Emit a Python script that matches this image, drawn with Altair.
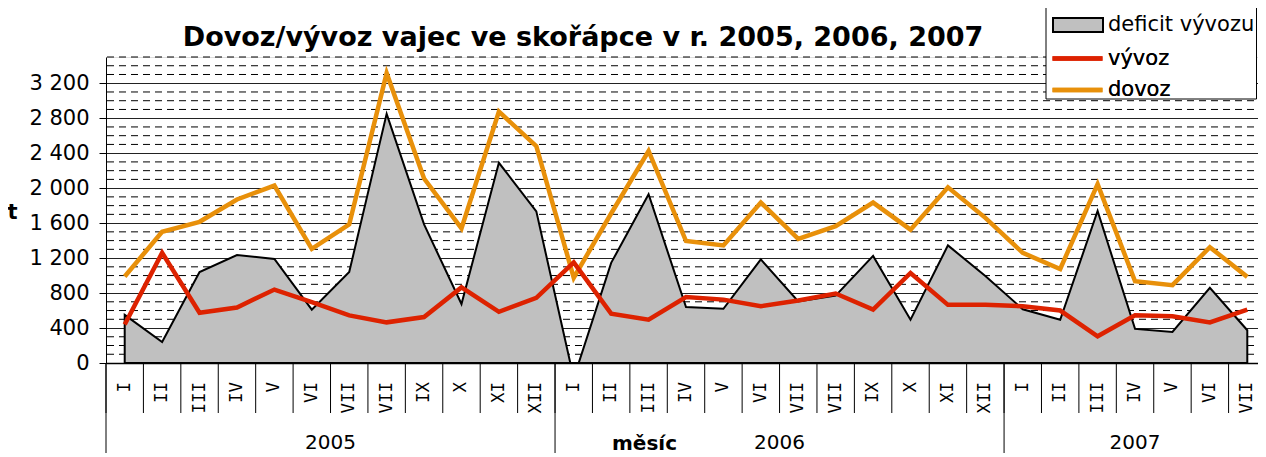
import altair as alt
import pandas as pd

# ---------------- data ----------------
months_2005 = ["I", "II", "III", "IV", "V", "VI", "VII", "VII", "IX", "X", "XI", "XII"]
months_2006 = ["I", "II", "III", "IV", "V", "VI", "VII", "VII", "IX", "X", "XI", "XII"]
months_2007 = ["I", "II", "III", "IV", "V", "VI", "VII"]
years = ["2005", "2006", "2007"]

dovoz_2005 = [990, 1500, 1615, 1870, 2030, 1305, 1585, 3315, 2110, 1540, 2875, 2480]
dovoz_2006 = [975, 1710, 2425, 1395, 1345, 1835, 1420, 1565, 1835, 1525, 2010, 1660]
dovoz_2007 = [1260, 1075, 2045, 935, 890, 1325, 985]

vyvoz_2005 = [440, 1260, 575, 635, 840, 695, 545, 465, 525, 865, 585, 745]
vyvoz_2006 = [1150, 565, 495, 755, 725, 650, 715, 795, 610, 1030, 665, 665]
vyvoz_2007 = [650, 600, 305, 545, 535, 465, 610]

deficit_2005 = [550, 240, 1040, 1235, 1190, 610, 1040, 2850, 1585, 675, 2290, 1735]
deficit_2006 = [-175, 1145, 1930, 640, 620, 1185, 705, 770, 1225, 495, 1345, 995]
deficit_2007 = [615, 495, 1740, 390, 355, 860, 375]

area_name = "deficit vývozu"
area_color = "#c0c0c0"
line_names = ["vývoz", "dovoz"]
line_colors = ["#dd2200", "#e8900a"]

major_ticks = [0, 400, 800, 1200, 1600, 2000, 2400, 2800, 3200]
minor_ticks = [v for v in range(100, 3600, 100) if v % 400 != 0]

title_text = "Dovoz/vývoz vajec ve skořápce v r. 2005, 2006, 2007"
y_title = "t"
x_title = "měsíc"

# ---------------- tables ----------------
month_groups = [months_2005, months_2006, months_2007]
labels = months_2005 + months_2006 + months_2007
n = len(labels)
pos = [i + 0.5 for i in range(n)]

df = pd.DataFrame({
    "pos": pos,
    "label": labels,
    "deficit": deficit_2005 + deficit_2006 + deficit_2007,
    "series": area_name,
})
df_dov = pd.DataFrame({"pos": pos, "value": dovoz_2005 + dovoz_2006 + dovoz_2007, "series": "dovoz"})
df_vyv = pd.DataFrame({"pos": pos, "value": vyvoz_2005 + vyvoz_2006 + vyvoz_2007, "series": "vývoz"})

starts, ends = [], []
c = 0
for g in month_groups:
    starts.append(c)
    c += len(g)
    ends.append(c)
df_years = pd.DataFrame({"pos": [(s + e) / 2 for s, e in zip(starts, ends)], "year": years})
df_msep = pd.DataFrame({"pos": list(range(n + 1))})
df_ysep = pd.DataFrame({"pos": starts + [n]})
df_minor = pd.DataFrame({"value": minor_ticks})
df_one = pd.DataFrame({"t": [title_text]})

# ---------------- chart ----------------
W, H = 1160, 306
FONT = "DejaVu Sans"

xscale = alt.Scale(domain=[0, n], nice=False, zero=False)
xaxis = alt.Axis(domain=True, domainColor="black", domainWidth=1.5, ticks=False,
                 labels=False, grid=False, title=x_title, titleFont=FONT,
                 titleFontSize=20, titleFontWeight="bold", titleColor="black",
                 titleX=538, titleY=80, titleBaseline="middle", titleAlign="center")
yscale = alt.Scale(domain=[0, 3500], nice=False, zero=True)
yaxis = alt.Axis(values=major_ticks, grid=True, gridColor="#222222", gridWidth=1,
                 domainColor="black", domainWidth=1, tickColor="black", tickSize=7,
                 labelFont=FONT, labelFontSize=21, labelColor="black", labelPadding=10,
                 labelExpr="replace(format(datum.value, ','), ',', ' ')",
                 title=y_title, titleAngle=0, titleFont=FONT, titleFontSize=21,
                 titleFontWeight="bold", titleColor="black", titleX=-94, titleY=155,
                 titleAlign="center", titleBaseline="middle")

X = alt.X("pos:Q", scale=xscale, axis=xaxis)


def Y(field):
    return alt.Y(f"{field}:Q", scale=yscale, axis=yaxis)


fill_enc = alt.Fill("series:N", scale=alt.Scale(domain=[area_name], range=[area_color]),
                    legend=alt.Legend(orient="none", legendX=946, legendY=-43, title=None,
                                      padding=0, symbolType="M-1,-0.7H4V0.7H-1Z",
                                      symbolSize=400, symbolStrokeColor="black",
                                      symbolStrokeWidth=2, symbolFillColor=area_color,
                                      labelOffset=34, labelFont=FONT, labelFontSize=21,
                                      labelColor="black", labelLimit=0))
color_enc = alt.Color("series:N", scale=alt.Scale(domain=line_names, range=line_colors),
                      legend=alt.Legend(orient="none", legendX=944, legendY=-11, title=None,
                                        padding=0, symbolType="M-1,0H4", symbolSize=400,
                                        symbolStrokeWidth=4.5, rowPadding=8.5,
                                        labelOffset=33, labelFont=FONT, labelFontSize=21,
                                        labelColor="black", labelLimit=0))

minor_grid = alt.Chart(df_minor).mark_rule(color="black", strokeWidth=1, strokeDash=[7, 5]).encode(
    y=Y("value"))

area = alt.Chart(df).mark_area(stroke="black", strokeWidth=2, clip=True,
                               strokeJoin="miter", opacity=1).encode(
    x=X, y=Y("deficit"), fill=fill_enc)

line_dov = alt.Chart(df_dov).mark_line(strokeWidth=4.5, clip=True).encode(
    x=X, y=Y("value"), color=color_enc)
line_vyv = alt.Chart(df_vyv).mark_line(strokeWidth=4.5, clip=True).encode(
    x=X, y=Y("value"), color=color_enc)

msep = alt.Chart(df_msep).mark_rule(color="black", strokeWidth=1).encode(
    x=X, y=alt.value(H), y2=alt.value(H + 50))
ysep = alt.Chart(df_ysep).mark_rule(color="black", strokeWidth=1).encode(
    x=X, y=alt.value(H), y2=alt.value(H + 100))

mtext = alt.Chart(df).mark_text(angle=270, align="right", baseline="middle",
                                font="DejaVu Sans Mono", fontSize=17.5, color="black").encode(
    x=X, y=alt.value(H + 19), text="label:N")
ytext = alt.Chart(df_years).mark_text(align="center", baseline="middle",
                                      font=FONT, fontSize=20, color="black").encode(
    x=X, y=alt.value(H + 80), text="year:N")

legend_box = alt.Chart(df_one).mark_rect(fill="white", stroke="black", strokeWidth=1).encode(
    x=alt.value(940), x2=alt.value(1150.5), y=alt.value(-52), y2=alt.value(42))

title = alt.Chart(df_one).mark_text(font=FONT, fontSize=27, fontWeight="bold", color="black",
                                    align="center", baseline="alphabetic").encode(
    x=alt.value(477), y=alt.value(-11), text="t:N")

chart = alt.layer(minor_grid, area, line_dov, line_vyv, msep, ysep, mtext, ytext,
                  legend_box, title).resolve_legend(fill="independent", color="independent").properties(
    width=W, height=H,
    padding={"left": 98, "top": 49, "right": -8, "bottom": 90},
    autosize=alt.AutoSizeParams(type="none"),
).configure_view(stroke=None).configure(background="white")

chart.save("out.html", embed_options={"renderer": "svg", "actions": False})
